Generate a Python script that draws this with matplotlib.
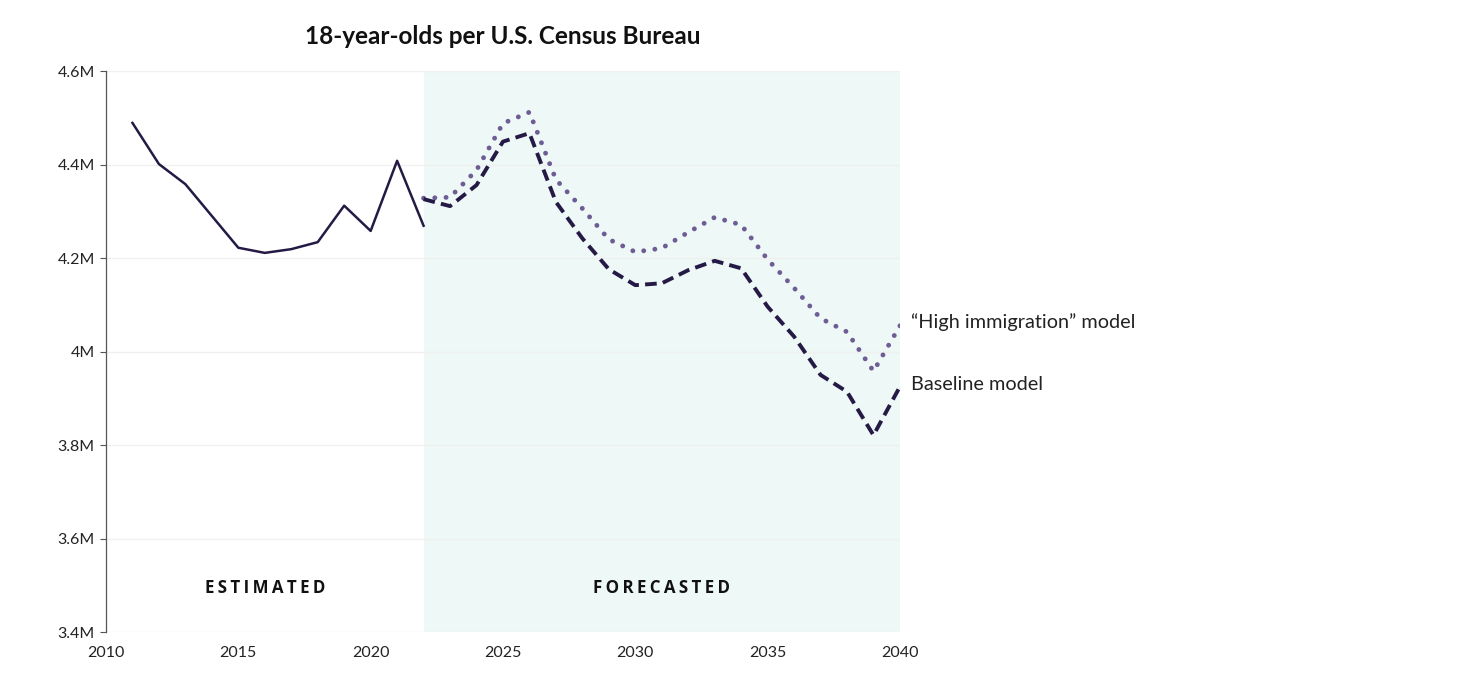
import matplotlib
matplotlib.use("Agg")
import matplotlib.pyplot as plt
from matplotlib.ticker import FuncFormatter

# 18-year-olds per U.S. Census Bureau, in millions
estimated_years = [2011, 2012, 2013, 2014, 2015, 2016, 2017, 2018, 2019, 2020, 2021, 2022]
estimated = [4.489, 4.401, 4.358, 4.290, 4.222, 4.211, 4.219, 4.234, 4.312, 4.258, 4.408, 4.269]

forecast_years = list(range(2022, 2041))
baseline = [4.326, 4.311, 4.356, 4.449, 4.467, 4.320, 4.242, 4.176, 4.142, 4.146,
            4.174, 4.194, 4.178, 4.096, 4.032, 3.950, 3.914, 3.821, 3.925]
high_immigration = [4.328, 4.330, 4.388, 4.488, 4.512, 4.368, 4.306, 4.240, 4.213, 4.221,
                    4.255, 4.287, 4.271, 4.197, 4.136, 4.071, 4.042, 3.958, 4.055]

y_ticks = [3.4, 3.6, 3.8, 4.0, 4.2, 4.4, 4.6]
x_ticks = [2010, 2015, 2020, 2025, 2030, 2035, 2040]

DARK = "#241a45"
PURPLE = "#6e5d94"
SHADE = "#eef8f6"
TEXT = "#222222"

plt.rcParams['font.family'] = ['Lato', 'DejaVu Sans']


def spaced(s):
    # thin spaces between letters to mimic the tracked-out section labels
    return "\u2009".join(s)


fig = plt.figure(figsize=(14.6, 6.95), dpi=100)
ax = fig.add_axes([0.0726, 0.0906, 0.5438, 0.8072])

ax.axvspan(2022, 2040, color=SHADE, zorder=0, lw=0)

ax.plot(estimated_years, estimated, color=DARK, lw=1.8, zorder=3)
ax.plot(forecast_years, baseline, color=DARK, lw=2.8, linestyle=(0, (3, 1.6)), zorder=3)
ax.plot(forecast_years, high_immigration, color=PURPLE, lw=3.5, linestyle=(0, (0.01, 2.3)),
        dash_capstyle='round', zorder=2)

ax.set_xlim(2010, 2040)
ax.set_ylim(3.4, 4.6)
ax.set_xticks(x_ticks)
ax.set_yticks(y_ticks)
ax.yaxis.set_major_formatter(FuncFormatter(lambda v, _: f"{v:g}M"))
ax.grid(axis='y', color="#f0f0f0", lw=1, zorder=1)
ax.set_axisbelow(True)

for side in ['top', 'right', 'bottom']:
    ax.spines[side].set_visible(False)
ax.spines['left'].set_color("#555555")
ax.spines['left'].set_linewidth(0.9)
ax.tick_params(axis='y', length=4, width=0.8, color="#555555", labelsize=11.5,
               labelcolor=TEXT, pad=4)
ax.tick_params(axis='x', length=0, labelsize=11.5, labelcolor=TEXT, pad=10)

ax.text(2016, 3.495, spaced("ESTIMATED"), ha='center', va='center', fontsize=12.2,
        fontweight='bold', color="#111111", fontfamily=['Open Sans', 'DejaVu Sans'])
ax.text(2031, 3.495, spaced("FORECASTED"), ha='center', va='center', fontsize=12.2,
        fontweight='bold', color="#111111", fontfamily=['Open Sans', 'DejaVu Sans'])

ax.text(2040.4, 4.063, "\u201cHigh immigration\u201d model",
        ha='left', va='center', fontsize=14.3, color=TEXT, clip_on=False)
ax.text(2040.4, 3.930, "Baseline model",
        ha='left', va='center', fontsize=14.3, color=TEXT, clip_on=False)

fig.text(0.3445, 0.947, "18-year-olds per U.S. Census Bureau", ha='center', va='center',
         fontsize=17.5, fontweight='bold', color="#111111")

fig.savefig("out.png", dpi=100, facecolor='white')
